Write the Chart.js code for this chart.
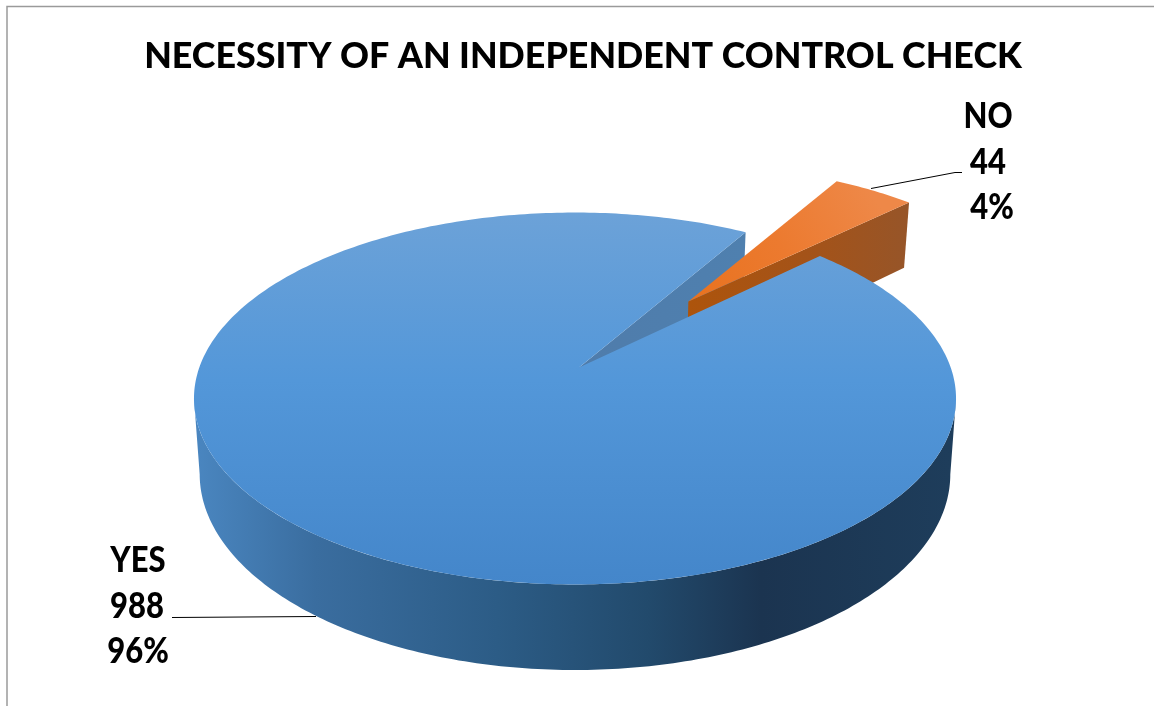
<!DOCTYPE html>
<html>
<head>
<meta charset="utf-8">
<style>html,body{margin:0;padding:0;background:#fff}canvas{display:block}</style>
<script src="https://cdn.jsdelivr.net/npm/chart.js@4"></script>
</head>
<body>
<canvas id="c" width="1154" height="706"></canvas>
<script>
const categories = ['YES', 'NO'];
const values = [988, 44];
const percents = ['96%', '4%'];
const titleText = 'NECESSITY OF AN INDEPENDENT CONTROL CHECK';
const sliceExplode = [0, 0.5];

// perspective view of the pie plane
const V = {cx:575, cy:367.5, a:375.7, b:180.8, p:1/6, s:0.985, d:74, apexShift:4, noShift:2.5};
function proj(X, Y, lower, shift){
  const w = 1 - V.p*Y, s = lower ? V.s : 1;
  return {x: V.cx + V.a*s*X/w + shift, y: V.cy + V.b*s*Y/w + (lower ? V.d/w : 0)};
}
function rimPts(a0, a1, lower, ox, oy, shift, n){
  const out = [];
  for(let i=0;i<=n;i++){
    const t = a0 + (a1-a0)*i/n;
    out.push(proj(Math.cos(t)+ox, Math.sin(t)+oy, lower, shift));
  }
  return out;
}
function fillPoly(ctx, pts, fill){
  ctx.beginPath();
  pts.forEach((q,i)=> i ? ctx.lineTo(q.x,q.y) : ctx.moveTo(q.x,q.y));
  ctx.closePath();
  ctx.fillStyle = fill;
  ctx.fill();
}
function grad(ctx, x0,y0,x1,y1, stops){
  const g = ctx.createLinearGradient(x0,y0,x1,y1);
  stops.forEach(s=>g.addColorStop(s[0],s[1]));
  return g;
}
const pie3d = {
  id:'pie3d',
  beforeDatasetDraw(chart){
    const ctx = chart.ctx, arcs = chart.getDatasetMeta(0).data;
    const yes = arcs[0], no = arcs[1];
    const shift = V.apexShift, ns = V.noShift;
    ctx.save();
    // inner wall of the YES slice, next to the gap
    const ye = yes.endAngle, ys = yes.startAngle;
    const rimE = proj(Math.cos(ye),Math.sin(ye),false,0), rimEL = proj(Math.cos(ye),Math.sin(ye),true,0);
    fillPoly(ctx,[proj(0,0,false,shift),rimE,rimEL,proj(0,0,true,shift)],
      grad(ctx,580,0,746,0,[[0,'#4f7cab'],[1,'#4f80af']]));
    // NO slice
    const mid = (no.startAngle+no.endAngle)/2, e = sliceExplode[1];
    const ox = e*Math.cos(mid), oy = e*Math.sin(mid);
    const nApex = proj(ox,oy,false,ns), nApexL = proj(ox,oy,true,ns);
    const nEnd = proj(Math.cos(no.endAngle)+ox,Math.sin(no.endAngle)+oy,false,ns);
    const nEndL = proj(Math.cos(no.endAngle)+ox,Math.sin(no.endAngle)+oy,true,ns);
    fillPoly(ctx,[nApex,nEnd,nEndL,nApexL],
      grad(ctx,688,0,905,0,[[0,'#ad540c'],[0.6,'#a3531a'],[1,'#975528']]));
    fillPoly(ctx,[nApex,...rimPts(no.startAngle,no.endAngle,false,ox,oy,ns,24)],
      grad(ctx,690,300,870,190,[[0,'#e8721f'],[0.5,'#ec7a2f'],[1,'#ee8848']]));
    // outer wall of the YES slice
    const ext = Math.asin(V.p);
    const front = rimPts(ext,Math.PI-ext,false,0,0,0,200);
    const back = rimPts(Math.PI-ext,ext,true,0,0,0,200);
    fillPoly(ctx,[...front,...back],
      grad(ctx,195,0,950,0,[[0,'#4a86c0'],[0.16,'#3a6d9f'],[0.4,'#2c5c86'],[0.6,'#224a6c'],[0.75,'#1b3450'],[1,'#1e3d5b']]));
    // top of the YES slice
    const top = rimPts(ys,ye,false,0,0,0,360);
    fillPoly(ctx,[proj(0,0,false,shift),...top],
      grad(ctx,0,213,0,585,[[0,'#6ca2d8'],[0.45,'#5397d9'],[1,'#4486ca']]));
    ctx.restore();
    return false;
  },
  afterDraw(chart){
    const ctx = chart.ctx;
    ctx.save();
    // frame
    ctx.strokeStyle = '#9a9a9a'; ctx.lineWidth = 1.5;
    ctx.beginPath(); ctx.moveTo(7,706); ctx.lineTo(7,6.5); ctx.lineTo(1154,6.5); ctx.stroke();
    // leader lines
    ctx.strokeStyle = '#000'; ctx.lineWidth = 1;
    ctx.beginPath(); ctx.moveTo(871,188.5); ctx.lineTo(955,172.5); ctx.lineTo(962,172.5); ctx.stroke();
    ctx.beginPath(); ctx.moveTo(172,617.5); ctx.lineTo(316,616.5); ctx.stroke();
    // labels
    ctx.fillStyle = '#000';
    ctx.font = '900 31px Lato';
    ctx.textAlign = 'center'; ctx.textBaseline = 'middle';
    const put = (t,x,y)=>{
      ctx.save(); ctx.translate(x,y); ctx.scale(1,1.14); ctx.fillText(t,0,0); ctx.restore();
    };
    put(categories[0],138,561); put(String(values[0]),137,607); put(percents[0],138,652);
    put(categories[1],988,117); put(String(values[1]),988,163); put(percents[1],992,208);
    ctx.restore();
  }
};
new Chart(document.getElementById('c'),{
  type:'pie',
  data:{labels:categories,datasets:[{data:values,backgroundColor:['#5397d9','#ec7a2f'],borderWidth:0}]},
  options:{
    responsive:false,animation:false,rotation:46.6,
    layout:{padding:{left:12}},
    plugins:{
      legend:{display:false},tooltip:{enabled:false},
      title:{display:true,text:titleText,color:'#000',font:{family:'Lato',weight:'900',size:35.8},padding:{top:35,bottom:10}}
    }
  },
  plugins:[pie3d]
});
</script>
</body>
</html>
